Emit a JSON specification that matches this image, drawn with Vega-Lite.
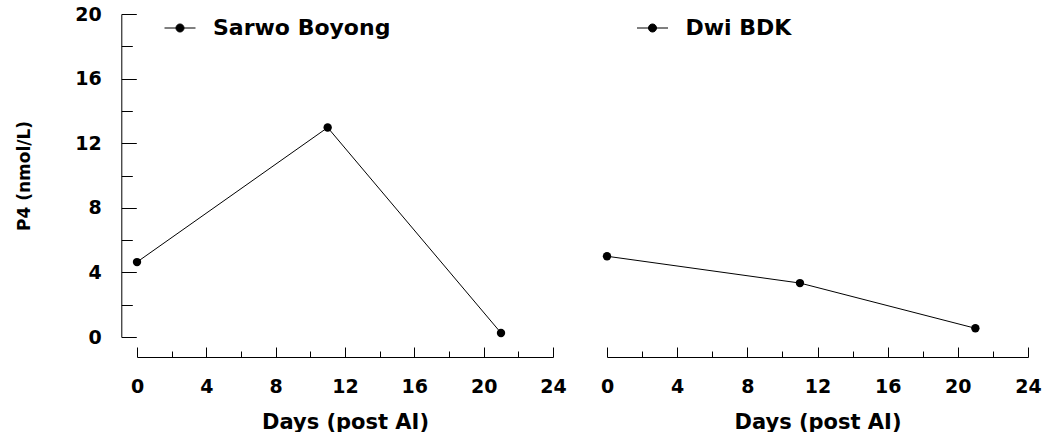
{
  "$schema": "https://vega.github.io/schema/vega-lite/v6.json",
  "background": "white",
  "padding": {"left": 15, "top": 5, "right": 0, "bottom": 0},
  "data": {"values": [
    {"cultivar": "Sarwo Boyong", "day": 0, "p4": 4.64},
    {"cultivar": "Sarwo Boyong", "day": 11, "p4": 12.97},
    {"cultivar": "Sarwo Boyong", "day": 21, "p4": 0.25},
    {"cultivar": "Dwi BDK", "day": 0, "p4": 5.0},
    {"cultivar": "Dwi BDK", "day": 11, "p4": 3.34},
    {"cultivar": "Dwi BDK", "day": 21, "p4": 0.54}
  ]},
  "bounds": "flush",
  "spacing": 54,
  "resolve": {"scale": {"color": "independent"}, "legend": {"color": "independent"}},
  "hconcat": [
    {
      "width": 416,
      "height": 323,
      "transform": [{"filter": "datum.cultivar === 'Sarwo Boyong'"}],
      "encoding": {
        "x": {"field": "day", "type": "quantitative", "scale": {"domain": [0, 24], "nice": false, "zero": false},
              "axis": {"title": "Days (post AI)", "values": [0,2,4,6,8,10,12,14,16,18,20,22,24]}},
        "y": {"field": "p4", "type": "quantitative", "scale": {"domain": [0, 20], "nice": false},
              "axis": {"title": "P4 (nmol/L)", "orient": "left", "offset": 15.7, "values": [0,2,4,6,8,10,12,14,16,18,20],
                       "tickSize": {"condition": {"test": "datum.value % 4 === 0", "value": -15}, "value": -11},
                       "labelExpr": "datum.value % 4 === 0 ? datum.label : ''",
                       "labelFlush": false,
                       "labelPadding": 35, "titlePadding": 41, "titleFontSize": 17}}
      },
      "layer": [
        {"mark": {"type": "line", "color": "black", "strokeWidth": 1}},
        {"mark": {"type": "point", "filled": true, "size": 70, "opacity": 1},
         "encoding": {"color": {"field": "cultivar", "type": "nominal", "scale": {"range": ["black"]},
                                "legend": {"legendX": 27, "legendY": -2}}}}
      ]
    },
    {
      "width": 421,
      "height": 323,
      "transform": [{"filter": "datum.cultivar === 'Dwi BDK'"}],
      "encoding": {
        "x": {"field": "day", "type": "quantitative", "scale": {"domain": [0, 24], "nice": false, "zero": false},
              "axis": {"title": "Days (post AI)", "values": [0,2,4,6,8,10,12,14,16,18,20,22,24]}},
        "y": {"field": "p4", "type": "quantitative", "scale": {"domain": [0, 20], "nice": false}, "axis": null}
      },
      "layer": [
        {"mark": {"type": "line", "color": "black", "strokeWidth": 1}},
        {"mark": {"type": "point", "filled": true, "size": 70, "opacity": 1},
         "encoding": {"color": {"field": "cultivar", "type": "nominal", "scale": {"range": ["black"]},
                                "legend": {"legendX": 29.5, "legendY": -2}}}}
      ]
    }
  ],
  "config": {
    "view": {"stroke": null},
    "font": "DejaVu Sans",
    "axis": {
      "grid": false,
      "domainColor": "black",
      "domainWidth": 1,
      "tickColor": "black",
      "tickWidth": 1,
      "labelFont": "DejaVu Sans",
      "labelFontWeight": "bold",
      "labelFontSize": 19,
      "labelColor": "black",
      "labelFlush": false,
      "labelOverlap": false,
      "titleFont": "DejaVu Sans",
      "titleFontWeight": "bold",
      "titleColor": "black"
    },
    "axisX": {
      "offset": 20,
      "tickSize": {"condition": {"test": "datum.value % 4 === 0", "value": -10}, "value": -6},
      "labelExpr": "datum.value % 4 === 0 ? datum.label : ''",
      "labelPadding": 30,
      "titlePadding": 11,
      "titleFontSize": 21
    },
    "legend": {
      "orient": "none",
      "title": null,
      "padding": 0,
      "symbolType": "M-1,0L1,0M-0.26,0A0.26,0.26,0,1,1,0.26,0A0.26,0.26,0,1,1,-0.26,0Z",
      "symbolSize": 961,
      "symbolFillColor": "black",
      "symbolStrokeColor": "black",
      "symbolStrokeWidth": 1,
      "symbolOpacity": 1,
      "labelFont": "DejaVu Sans",
      "labelFontWeight": "bold",
      "labelFontSize": 22,
      "labelColor": "black",
      "labelOffset": 17,
      "labelLimit": 0
    }
  }
}
